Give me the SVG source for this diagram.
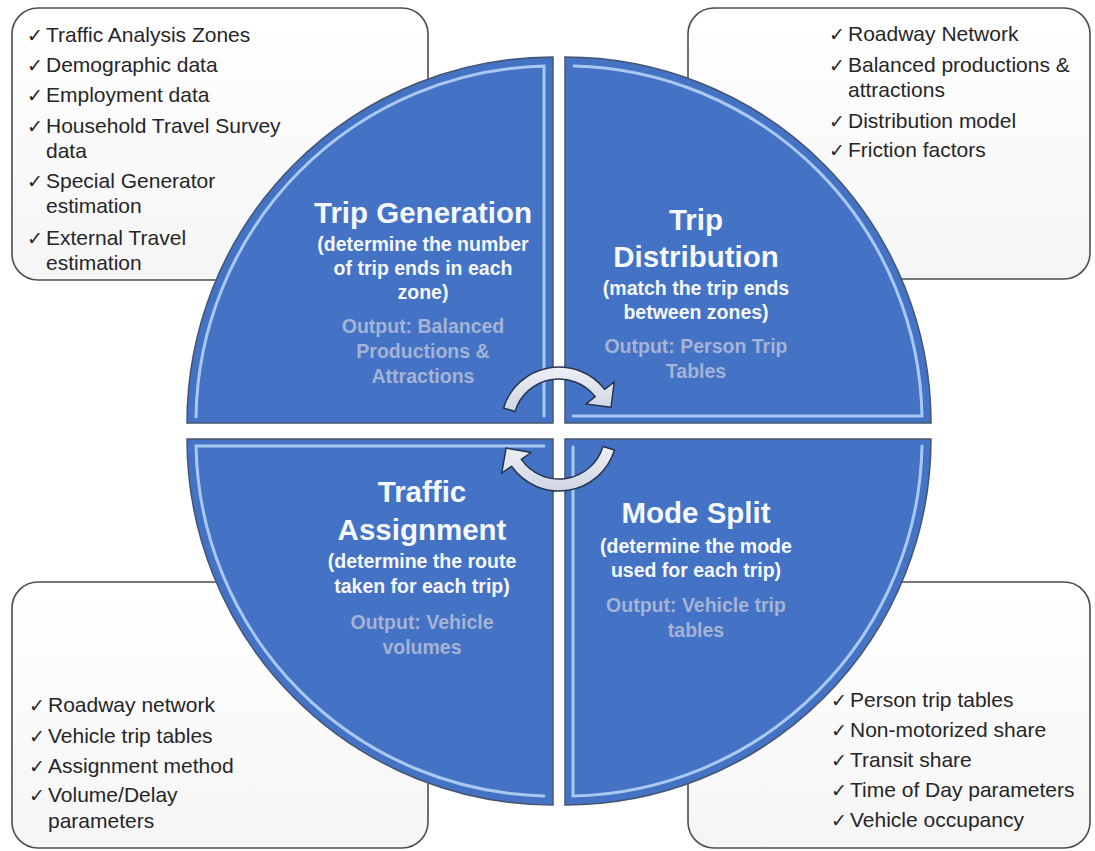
<svg xmlns="http://www.w3.org/2000/svg" width="1095" height="851" viewBox="0 0 1095 851">
<defs>
<linearGradient id="boxg" x1="0" y1="0" x2="0" y2="1">
<stop offset="0" stop-color="#ffffff"/>
<stop offset="1" stop-color="#f5f5f5"/>
</linearGradient>
<linearGradient id="arrg" x1="0" y1="0" x2="0" y2="1">
<stop offset="0" stop-color="#eef0f6"/>
<stop offset="1" stop-color="#cfd5e3"/>
</linearGradient>
</defs>
<style>
.box{fill:url(#boxg);stroke:#4d4d4d;stroke-width:1.6}
.lst{font-family:"Liberation Sans",Arial,sans-serif;font-size:21px;fill:#262626}
.ck{font-family:"DejaVu Sans",sans-serif;font-size:19px}
.q{fill:#4472c4;stroke:#45556f;stroke-width:1.5}
.bev{fill:none;stroke:#a9c9f2;stroke-width:3;stroke-linecap:round}
.ttl{font-family:"Liberation Sans",Arial,sans-serif;font-weight:bold;font-size:29.5px;fill:#f5f8ff;text-anchor:middle}
.sub{font-family:"Liberation Sans",Arial,sans-serif;font-weight:bold;font-size:19.5px;fill:#f5f8ff;text-anchor:middle}
.out{font-family:"Liberation Sans",Arial,sans-serif;font-weight:bold;font-size:19.5px;fill:#a4b3d6;text-anchor:middle}
.arr{fill:url(#arrg);stroke:#263550;stroke-width:1.5;stroke-linejoin:round}
</style>
<rect width="1095" height="851" fill="#ffffff"/>

<g id="inputs-trip-generation">
<rect class="box" x="12" y="8" width="416" height="272" rx="26"/>
<text class="lst" x="27" y="42"><tspan class="ck">✓</tspan><tspan x="46">Traffic Analysis Zones</tspan></text>
<text class="lst" x="27" y="72"><tspan class="ck">✓</tspan><tspan x="46">Demographic data</tspan></text>
<text class="lst" x="27" y="102"><tspan class="ck">✓</tspan><tspan x="46">Employment  data</tspan></text>
<text class="lst" x="27" y="133"><tspan class="ck">✓</tspan><tspan x="46">Household  Travel Survey</tspan></text>
<text class="lst" x="46" y="158">data</text>
<text class="lst" x="27" y="188"><tspan class="ck">✓</tspan><tspan x="46">Special Generator</tspan></text>
<text class="lst" x="46" y="213">estimation</text>
<text class="lst" x="27" y="245"><tspan class="ck">✓</tspan><tspan x="46">External Travel</tspan></text>
<text class="lst" x="46" y="270">estimation</text>
</g>

<g id="inputs-trip-distribution">
<rect class="box" x="688" y="8" width="402" height="271" rx="26"/>
<text class="lst" x="829" y="41"><tspan class="ck">✓</tspan><tspan x="848">Roadway Network</tspan></text>
<text class="lst" x="829" y="72"><tspan class="ck">✓</tspan><tspan x="848">Balanced productions &amp;</tspan></text>
<text class="lst" x="848" y="97">attractions</text>
<text class="lst" x="829" y="128"><tspan class="ck">✓</tspan><tspan x="848">Distribution model</tspan></text>
<text class="lst" x="829" y="157"><tspan class="ck">✓</tspan><tspan x="848">Friction factors</tspan></text>
</g>

<g id="inputs-traffic-assignment">
<rect class="box" x="12" y="582" width="416" height="266" rx="26"/>
<text class="lst" x="29" y="712"><tspan class="ck">✓</tspan><tspan x="48">Roadway network</tspan></text>
<text class="lst" x="29" y="743"><tspan class="ck">✓</tspan><tspan x="48">Vehicle trip  tables</tspan></text>
<text class="lst" x="29" y="773"><tspan class="ck">✓</tspan><tspan x="48">Assignment method</tspan></text>
<text class="lst" x="29" y="802"><tspan class="ck">✓</tspan><tspan x="48">Volume/Delay</tspan></text>
<text class="lst" x="48" y="828">parameters</text>
</g>

<g id="inputs-mode-split">
<rect class="box" x="688" y="582" width="402" height="266" rx="26"/>
<text class="lst" x="831" y="707"><tspan class="ck">✓</tspan><tspan x="850">Person trip  tables</tspan></text>
<text class="lst" x="831" y="737"><tspan class="ck">✓</tspan><tspan x="850">Non-motorized  share</tspan></text>
<text class="lst" x="831" y="767"><tspan class="ck">✓</tspan><tspan x="850">Transit share</tspan></text>
<text class="lst" x="831" y="797"><tspan class="ck">✓</tspan><tspan x="850">Time of Day parameters</tspan></text>
<text class="lst" x="831" y="827"><tspan class="ck">✓</tspan><tspan x="850">Vehicle occupancy</tspan></text>
</g>

<g id="trip-generation">
<path class="q" d="M553 423 L187 423 A366 366 0 0 1 553 57 Z"/>
<path class="bev" d="M196 417 A357 357 0 0 1 544 66 L544 416"/>
<text class="ttl" x="423" y="223">Trip Generation</text>
<text class="sub" x="423" y="251">(determine the number</text>
<text class="sub" x="423" y="275">of trip ends in each</text>
<text class="sub" x="423" y="299">zone)</text>
<text class="out" x="423" y="333">Output: Balanced</text>
<text class="out" x="423" y="358">Productions &amp;</text>
<text class="out" x="423" y="383">Attractions</text>
</g>

<g id="trip-distribution">
<path class="q" d="M565 423 L565 57 A366 366 0 0 1 931 423 Z"/>
<path class="bev" d="M574 66 A357 357 0 0 1 922 416 L573 416"/>
<text class="ttl" x="696" y="230">Trip</text>
<text class="ttl" x="696" y="267">Distribution</text>
<text class="sub" x="696" y="295">(match the trip ends</text>
<text class="sub" x="696" y="319">between zones)</text>
<text class="out" x="696" y="353">Output: Person Trip</text>
<text class="out" x="696" y="378">Tables</text>
</g>

<g id="mode-split">
<path class="q" d="M565 439 L931 439 A366 366 0 0 1 565 805 Z"/>
<path class="bev" d="M573 447 L573 796 A357 357 0 0 0 922 446"/>
<text class="ttl" x="696" y="523">Mode Split</text>
<text class="sub" x="696" y="553">(determine the mode</text>
<text class="sub" x="696" y="577">used for each trip)</text>
<text class="out" x="696" y="612">Output: Vehicle trip</text>
<text class="out" x="696" y="637">tables</text>
</g>

<g id="traffic-assignment">
<path class="q" d="M553 439 L553 805 A366 366 0 0 1 187 439 Z"/>
<path class="bev" d="M544 446 L196 446 A357 357 0 0 0 544 796"/>
<text class="ttl" x="422" y="502">Traffic</text>
<text class="ttl" x="422" y="540">Assignment</text>
<text class="sub" x="422" y="568">(determine the route</text>
<text class="sub" x="422" y="593">taken for each trip)</text>
<text class="out" x="422" y="629">Output: Vehicle</text>
<text class="out" x="422" y="654">volumes</text>
</g>

<g id="connectors">
<path class="arr" d="M503.5 408 A58 58 0 0 1 604.7 389.3 L614.2 381.9 L611.1 407.2 L585.8 404.1 L595.2 396.7 A46 46 0 0 0 515 411.5 Z"/>
<path class="arr" d="M614.5 450 A58 58 0 0 1 511.5 466.3 L501.7 473.2 L506.1 448.1 L531.1 452.5 L521.3 459.4 A46 46 0 0 0 603 446.5 Z"/>
</g>
</svg>
